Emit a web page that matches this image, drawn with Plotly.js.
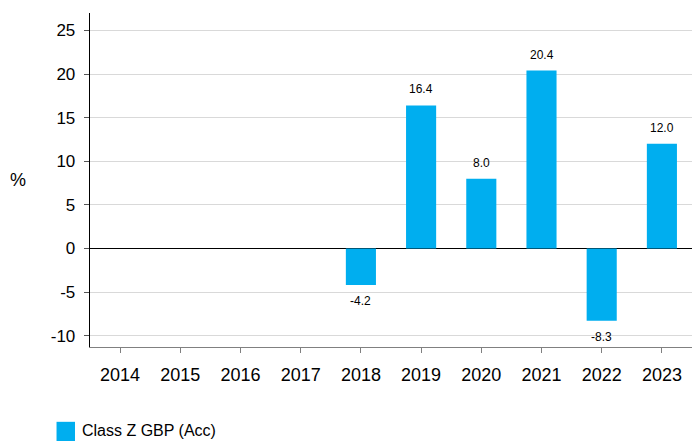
<!DOCTYPE html>
<html>
<head>
<meta charset="utf-8">
<script src="https://cdn.plot.ly/plotly-3.0.1.min.js"></script>
<style>html,body{margin:0;padding:0;background:#fff}#chart{width:692px;height:441px}</style>
</head>
<body>
<div id="chart"></div>
<script>
const years = ['2014','2015','2016','2017','2018','2019','2020','2021','2022','2023'];
const returns = [null, null, null, null, -4.2, 16.4, 8.0, 20.4, -8.3, 12.0];
const seriesName = 'Class Z GBP (Acc)';
const yTicks = [-10, -5, 0, 5, 10, 15, 20, 25];
const barColor = '#00AEEF';
const font = 'Liberation Sans, Arial, sans-serif';

const labels = [];
years.forEach((y, i) => {
  const v = returns[i];
  if (v === null) return;
  labels.push({
    x: i, y: v, xref: 'x', yref: 'y',
    text: v.toFixed(1), showarrow: false,
    yanchor: v >= 0 ? 'bottom' : 'top',
    yshift: v >= 0 ? 7 : -7,
    font: {family: font, size: 12, color: '#000'}
  });
});
labels.push({
  xref: 'paper', yref: 'paper', x: -0.12, y: 0.5, xanchor: 'center', yanchor: 'middle',
  text: '%', showarrow: false, font: {family: font, size: 18, color: '#000'}
});
// legend entry (drawn manually to match the large swatch)
labels.push({
  xref: 'paper', yref: 'paper', x: -0.0166, y: -0.2814, xanchor: 'left', yanchor: 'bottom',
  text: seriesName, showarrow: false, font: {family: font, size: 16, color: '#000'}
});

const trace = {
  type: 'bar', x: years, y: returns, name: seriesName,
  marker: {color: barColor}, showlegend: false
};

const layout = {
  width: 692, height: 441,
  margin: {l: 90, r: 0, t: 13, b: 94},
  paper_bgcolor: '#fff', plot_bgcolor: '#fff',
  bargap: 0.5,
  showlegend: false,
  font: {family: font, color: '#000'},
  xaxis: {
    type: 'category', range: [-0.5, years.length - 0.5], autorange: false,
    showline: true, linecolor: '#808080', linewidth: 1.3,
    ticks: 'outside', ticklen: 5, tickcolor: '#808080', tickwidth: 1,
    ticklabelstandoff: 6,
    tickfont: {size: 18, family: font, color: '#000'},
    showgrid: false, zeroline: false
  },
  yaxis: {
    range: [-11.3, 27], autorange: false, tickvals: yTicks, ticktext: yTicks.map(String),
    showline: true, linecolor: '#000', linewidth: 1.3,
    ticks: 'outside', ticklen: 5, tickcolor: '#555', tickwidth: 1,
    ticklabelstandoff: 5,
    tickfont: {size: 17, family: font, color: '#000'},
    showgrid: true, gridcolor: '#d9d9d9', gridwidth: 1,
    zeroline: true, zerolinecolor: '#000', zerolinewidth: 1.3
  },
  shapes: [{
    type: 'rect', xref: 'paper', yref: 'paper',
    x0: -0.0556, x1: -0.0249, y0: -0.224, y1: -0.30,
    fillcolor: barColor, line: {width: 0}
  }],
  annotations: labels
};

Plotly.newPlot('chart', [trace], layout, {displayModeBar: false, staticPlot: true});
</script>
</body>
</html>
